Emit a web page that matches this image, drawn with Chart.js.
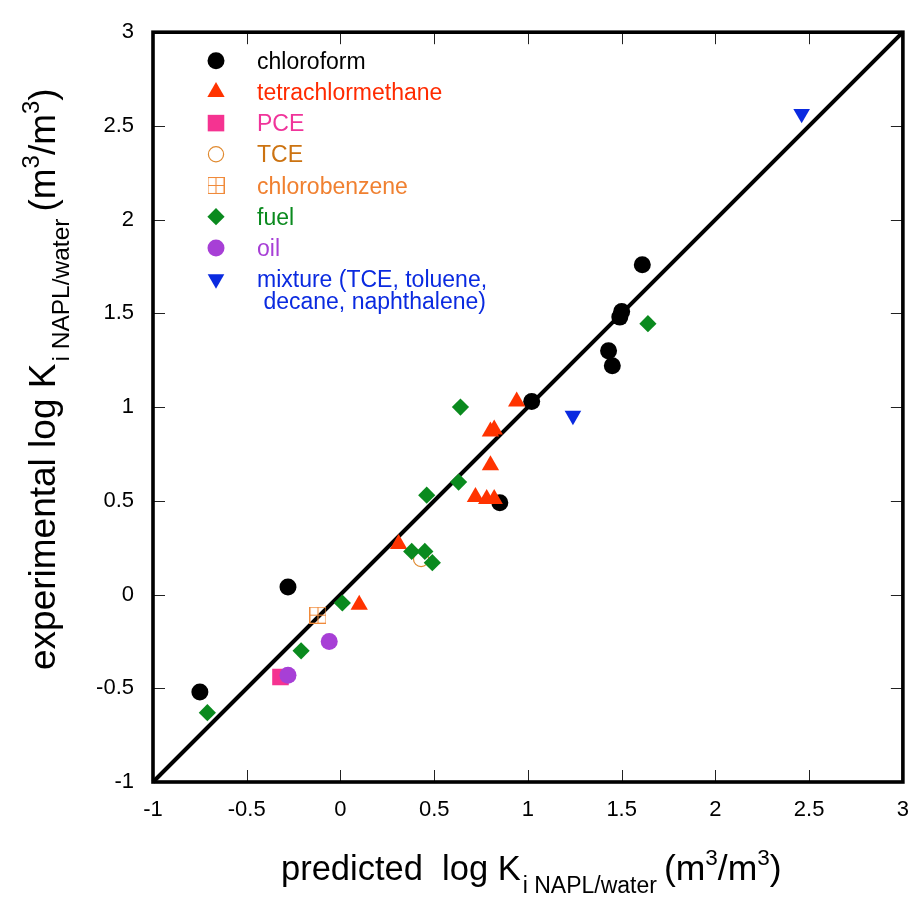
<!DOCTYPE html>
<html>
<head>
<meta charset="utf-8">
<script src="https://cdn.jsdelivr.net/npm/chart.js@4.4.1/dist/chart.umd.min.js"></script>
<style>
html,body{margin:0;padding:0;background:#fff;}
#wrap{width:924px;height:900px;}
</style>
</head>
<body>
<div id="wrap"><canvas id="c" width="924" height="900"></canvas></div>
<script>
// ---------- data ----------
const seriesNames = ['chloroform', 'tetrachlormethane', 'PCE', 'TCE', 'chlorobenzene', 'fuel', 'oil', 'mixture (TCE, toluene,| decane, naphthalene)'];
const tickValues = [-1, -0.5, 0, 0.5, 1, 1.5, 2, 2.5, 3];
const tickLabels = ['-1', '-0.5', '0', '0.5', '1', '1.5', '2', '2.5', '3'];

const chloroform = [[-0.75, -0.52], [-0.28, 0.04], [0.85, 0.49], [1.02, 1.03], [1.43, 1.30], [1.45, 1.22], [1.49, 1.48], [1.50, 1.51], [1.61, 1.76]];
const tetrachlormethane = [[0.94, 1.03], [0.80, 0.87], [0.82, 0.88], [0.80, 0.69], [0.72, 0.52], [0.78, 0.51], [0.82, 0.51], [0.31, 0.27], [0.10, -0.055]];
const pce = [[-0.32, -0.44]];
const tce = [[0.43, 0.19]];
const chlorobenzene = [[-0.12, -0.11]];
const fuel = [[-0.71, -0.63], [-0.21, -0.30], [0.01, -0.045], [0.38, 0.23], [0.45, 0.23], [0.49, 0.17], [0.46, 0.53], [0.63, 0.60], [0.64, 1.00], [1.64, 1.445]];
const oil = [[-0.28, -0.43], [-0.06, -0.25]];
const mixture = [[1.24, 0.955], [2.46, 2.565]];
const identityLine = [[-1, -1], [3, 3]];

const FONT = "'Liberation Sans', Arial, Helvetica, sans-serif";

// custom marker: square with cross (chlorobenzene)
function makeGridSquare(color) {
  const c = document.createElement('canvas');
  c.width = 17; c.height = 17;
  const g = c.getContext('2d');
  g.strokeStyle = color; g.lineWidth = 1.1;
  g.strokeRect(0.5, 0.5, 16, 16);
  g.beginPath(); g.moveTo(8.5, 0.5); g.lineTo(8.5, 16.5); g.moveTo(0.5, 8.5); g.lineTo(16.5, 8.5); g.stroke();
  return c;
}
const gridSquare = makeGridSquare('#f08a3a');

const toPts = arr => arr.map(p => ({x: p[0], y: p[1]}));

const styles = [
  {data: chloroform, pointStyle: 'circle', radius: 8.5, bg: '#000000', bc: '#000000', bw: 0, rot: 0, order: 6, text: '#000000'},
  {data: tetrachlormethane, pointStyle: 'triangle', radius: 10, bg: '#ff3300', bc: '#ff3300', bw: 0, rot: 0, order: 5, text: '#ff2a00'},
  {data: pce, pointStyle: 'rect', radius: 11.7, bg: '#f53391', bc: '#f53391', bw: 0, rot: 0, order: 7, text: '#f0349a'},
  {data: tce, pointStyle: 'circle', radius: 7.6, bg: 'rgba(0,0,0,0)', bc: '#e08a30', bw: 1.2, rot: 0, order: 9, text: '#cc7311'},
  {data: chlorobenzene, pointStyle: gridSquare, radius: 8.5, bg: 'rgba(0,0,0,0)', bc: '#f08a3a', bw: 1, rot: 0, order: 8, text: '#f08030'},
  {data: fuel, pointStyle: 'rectRot', radius: 8.6, bg: '#0a8a1e', bc: '#0a8a1e', bw: 0, rot: 0, order: 4, text: '#0a8a1e'},
  {data: oil, pointStyle: 'circle', radius: 8.5, bg: '#a73fd6', bc: '#a73fd6', bw: 0, rot: 0, order: 3, text: '#a73fd6'},
  {data: mixture, pointStyle: 'triangle', radius: 9.6, bg: '#0a2ae0', bc: '#0a2ae0', bw: 0, rot: 180, order: 2, text: '#0a2ae0'}
];

const datasets = styles.map((s, i) => ({
  label: seriesNames[i],
  data: toPts(s.data),
  pointStyle: s.pointStyle,
  pointRadius: s.radius,
  pointHoverRadius: s.radius,
  pointBackgroundColor: s.bg,
  pointBorderColor: s.bc,
  pointBorderWidth: s.bw,
  pointRotation: s.rot,
  showLine: false,
  order: s.order
}));
datasets.push({
  type: 'line',
  label: 'y = x',
  data: toPts(identityLine),
  borderColor: '#000000',
  borderWidth: 4,
  pointRadius: 0,
  fill: false,
  clip: false,
  order: 20
});

// ---------- plugins ----------
const framePlugin = {
  id: 'frame',
  afterDatasetsDraw(chart) {
    const {ctx, chartArea: a, scales: {x, y}} = chart;
    ctx.save();
    ctx.strokeStyle = '#222';
    ctx.lineWidth = 1;
    ctx.beginPath();
    tickValues.forEach(v => {
      const px = Math.round(x.getPixelForValue(v)) + 0.5;
      ctx.moveTo(px, a.bottom); ctx.lineTo(px, a.bottom - 12);
      ctx.moveTo(px, a.top); ctx.lineTo(px, a.top + 12);
      const py = Math.round(y.getPixelForValue(v)) + 0.5;
      ctx.moveTo(a.left, py); ctx.lineTo(a.left + 12, py);
      ctx.moveTo(a.right, py); ctx.lineTo(a.right - 12, py);
    });
    ctx.stroke();
    ctx.strokeStyle = '#000';
    ctx.lineWidth = 3.6;
    ctx.strokeRect(a.left, a.top, a.right - a.left, a.bottom - a.top);
    ctx.restore();
  }
};

function drawMarker(ctx, s, x, y) {
  if (typeof s.pointStyle !== 'string') {
    ctx.drawImage(s.pointStyle, x - s.pointStyle.width / 2, y - s.pointStyle.height / 2);
    return;
  }
  ctx.fillStyle = s.bg;
  ctx.strokeStyle = s.bc;
  ctx.lineWidth = s.bw;
  if (Chart.helpers && Chart.helpers.drawPoint) {
    Chart.helpers.drawPoint(ctx, {pointStyle: s.pointStyle, radius: s.radius, rotation: s.rot, borderWidth: s.bw}, x, y);
  }
}

const legendPlugin = {
  id: 'insideLegend',
  afterDraw(chart) {
    const ctx = chart.ctx;
    const mx = 216, tx = 257, y0 = 60.7, dy = 31.2;
    ctx.save();
    ctx.font = '23px ' + FONT;
    ctx.textAlign = 'left';
    ctx.textBaseline = 'alphabetic';
    styles.forEach((s, i) => {
      const y = y0 + i * dy;
      drawMarker(ctx, s, mx, y);
      ctx.fillStyle = s.text;
      const lines = seriesNames[i].split('|');
      lines.forEach((ln, k) => ctx.fillText(ln, tx, y + 8 + k * 22));
    });
    ctx.restore();
  }
};

// rich text: pieces are laid out one after another along the baseline
function drawRich(ctx, pieces, ox, oy, angle) {
  ctx.save();
  ctx.translate(ox, oy);
  ctx.rotate(angle);
  ctx.fillStyle = '#000';
  ctx.textAlign = 'left';
  ctx.textBaseline = 'alphabetic';
  let s = 0;
  pieces.forEach(p => {
    s += p.gap || 0;
    ctx.font = p.size + 'px ' + FONT;
    ctx.fillText(p.t, s, p.v);
    s += ctx.measureText(p.t).width;
  });
  ctx.restore();
}

function titlePieces(word, main, sub, unit, sup, subDy, supDy) {
  return [
    {t: word + 'log K', size: main, v: 0},
    {t: 'i NAPL/water', size: sub, v: subDy, gap: 2},
    {t: '(m', size: unit, v: 0, gap: 7},
    {t: '3', size: sup, v: supDy},
    {t: '/m', size: unit, v: 0},
    {t: '3', size: sup, v: supDy},
    {t: ')', size: unit, v: 0}
  ];
}

const titlePlugin = {
  id: 'titles',
  afterDraw(chart) {
    const ctx = chart.ctx;
    drawRich(ctx, titlePieces('predicted  ', 34.5, 23, 35.5, 22.5, 13, -15), 281, 880, 0);
    drawRich(ctx, titlePieces('experimental ', 37, 24.5, 37, 24, 14, -16), 55, 670, -Math.PI / 2);
  }
};

new Chart(document.getElementById('c'), {
  type: 'scatter',
  data: {datasets: datasets},
  options: {
    responsive: false,
    animation: false,
    events: [],
    layout: {padding: {top: 22, right: 21, left: 0, bottom: 0}},
    plugins: {legend: {display: false}, tooltip: {enabled: false}, title: {display: false}},
    scales: {
      x: {
        type: 'linear', min: -1, max: 3,
        afterBuildTicks: s => { s.ticks = tickValues.map(v => ({value: v})); },
        ticks: {padding: 15, color: '#000', font: {family: FONT, size: 22}, maxRotation: 0, autoSkip: false,
                callback: (v, i) => tickLabels[i]},
        grid: {display: false, drawTicks: false},
        border: {display: false},
        afterFit: s => { s.height = 118; }
      },
      y: {
        type: 'linear', min: -1, max: 3,
        afterBuildTicks: s => { s.ticks = tickValues.map(v => ({value: v})); },
        ticks: {padding: 19, color: '#000', font: {family: FONT, size: 22}, autoSkip: false,
                callback: (v, i) => tickLabels[i]},
        grid: {display: false, drawTicks: false},
        border: {display: false},
        afterFit: s => { s.width = 153; }
      }
    }
  },
  plugins: [framePlugin, legendPlugin, titlePlugin]
});
</script>
</body>
</html>
